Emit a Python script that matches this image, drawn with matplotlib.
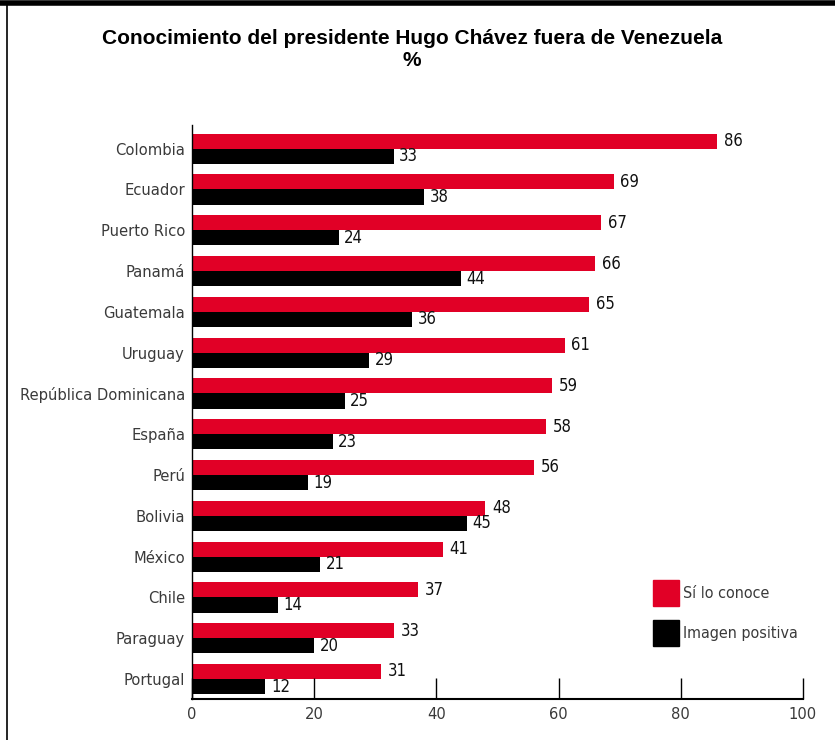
import numpy as np
import matplotlib
matplotlib.use("Agg")
import matplotlib.pyplot as plt
from matplotlib.patches import Patch
from matplotlib.lines import Line2D

paises = ["Colombia", "Ecuador", "Puerto Rico", "Panamá", "Guatemala", "Uruguay",
          "República Dominicana", "España", "Perú", "Bolivia", "México", "Chile",
          "Paraguay", "Portugal"]
conoce = [86, 69, 67, 66, 65, 61, 59, 58, 56, 48, 41, 37, 33, 31]
imagen = [33, 38, 24, 44, 36, 29, 25, 23, 19, 45, 21, 14, 20, 12]
ticks_x = [0, 20, 40, 60, 80, 100]

rojo = "#e10026"
gris = "#3a3a3a"
cond = dict(family="DejaVu Sans", stretch="condensed")

fig = plt.figure(figsize=(8.35, 7.4), dpi=100)
ax = fig.add_axes([192/835, 1-699/740, (803-192)/835, (699-125)/740])

y = np.arange(len(paises))
h = 0.37
ax.barh(y - h/2, conoce, height=h, color=rojo)
ax.barh(y + h/2, imagen, height=h, color="black")

for i in range(len(paises)):
    ax.text(conoce[i] + 1.1, y[i] - h/2, str(conoce[i]), va="center", ha="left",
            fontsize=12, color="#111111", **cond)
    ax.text(imagen[i] + 0.9, y[i] + h/2, str(imagen[i]), va="center", ha="left",
            fontsize=12, color="#111111", **cond)

ax.set_ylim(len(paises) - 1 + 0.49, -0.58)
ax.set_xlim(0, 100)
ax.set_yticks(y)
ax.set_yticklabels(paises, fontsize=11.8, color=gris, **cond)
ax.set_xticks(ticks_x)
ax.set_xticklabels([str(t) for t in ticks_x], fontsize=11.8, color=gris, **cond)
ax.tick_params(axis="y", length=0, pad=5)
ax.tick_params(axis="x", direction="in", length=15, width=1, color="black", pad=6)
ax.spines["top"].set_visible(False)
ax.spines["right"].set_visible(False)
ax.spines["left"].set_linewidth(1)
ax.spines["bottom"].set_linewidth(1.5)

ax.legend(handles=[Patch(color=rojo), Patch(color="black")],
          labels=["Sí lo conoce", "Imagen positiva"],
          loc="upper left", bbox_to_anchor=((639-192)/611, (699-566)/574),
          frameon=False, handlelength=1.63, handleheight=2.13,
          labelspacing=0.875, handletextpad=0.25,
          prop=dict(size=11.5, **cond), labelcolor=gris)

fig.text(412/835, 1-38/740, "Conocimiento del presidente Hugo Chávez fuera de Venezuela",
         ha="center", va="center", fontsize=15, fontweight="bold",
         family=["Liberation Sans", "DejaVu Sans"])
fig.text(412/835, 1-60/740, "%", ha="center", va="center", fontsize=15,
         fontweight="bold", family=["Liberation Sans", "DejaVu Sans"])

# marco
fig.add_artist(Line2D([0, 1], [1-3/740, 1-3/740], color="black", lw=4,
                      transform=fig.transFigure))
fig.add_artist(Line2D([7/835, 7/835], [0, 1-3/740], color="black", lw=1.2,
                      transform=fig.transFigure))

fig.savefig("out.png", dpi=100)
